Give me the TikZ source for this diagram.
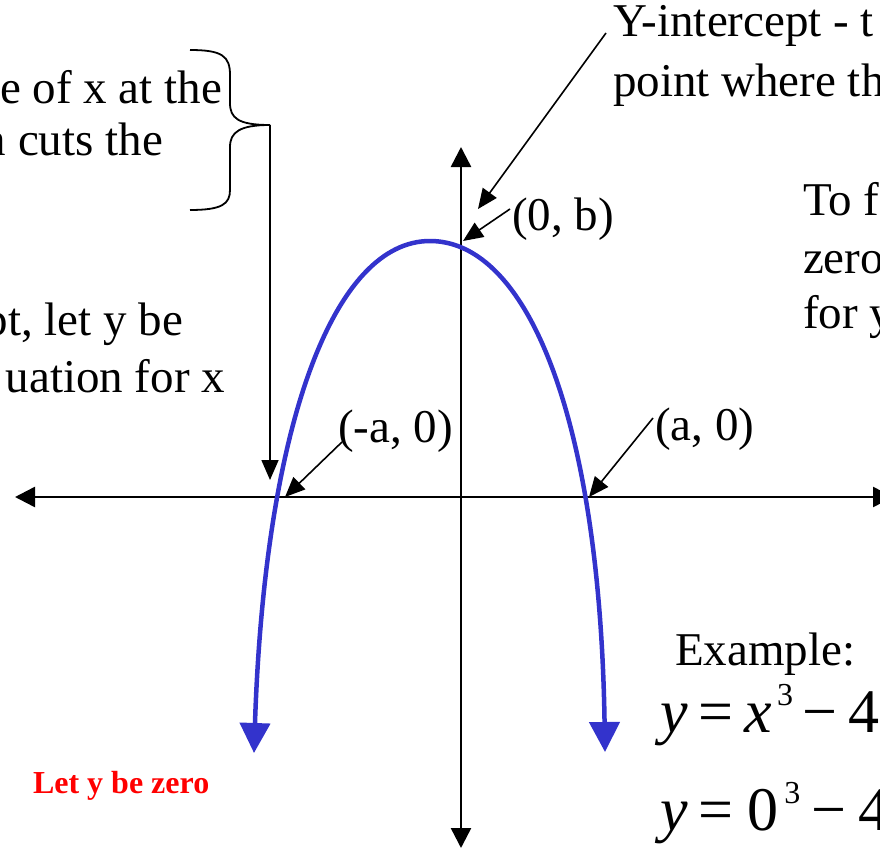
\documentclass[tikz,border=0pt]{standalone}
\usepackage{fontspec}
\setmainfont{Liberation Serif}
\usetikzlibrary{arrows.meta}
\definecolor{curveblue}{RGB}{51,51,204}
\definecolor{labelred}{RGB}{255,0,0}
\tikzset{
  axisline/.style={line width=2.5pt, {Triangle[length=20pt,width=20pt]}-{Triangle[length=20pt,width=20pt]}},
  noteline/.style={line width=1.6pt, -{Triangle[length=20pt,width=17pt]}},
  braceline/.style={line width=1.8pt},
  curveline/.style={line width=4.5pt, color=curveblue, {Triangle[length=30pt,width=30pt]}-{Triangle[length=30pt,width=30pt]}},
  txt/.style={inner sep=0pt, outer sep=0pt, font=\fontsize{47}{56}\selectfont},
  mathtxt/.style={inner sep=0pt, outer sep=0pt, font=\fontsize{62}{70}\selectfont},
  redtxt/.style={inner sep=0pt, outer sep=0pt, text=labelred, font=\fontsize{32}{38}\selectfont\bfseries},
}
\begin{document}
\begin{tikzpicture}[x=1pt, y=-1pt]
\useasboundingbox (0,0) rectangle (880,848);
\clip (0,0) rectangle (880,848);

% axes
\coordinate (xl) at (15,497);
\coordinate (xr) at (893,497);
\coordinate (yt) at (461,147);
\coordinate (yb) at (461,848);
\draw[axisline] (xl) -- (xr);
\draw[axisline] (yb) -- (yt);

% curve
\coordinate (cl) at (254,753);
\coordinate (peak) at (430,241);
\coordinate (cr) at (605,752);
\draw[curveline] (cl) .. controls (265,420) and (335,241) .. (peak)
                      .. controls (528,241) and (600,420) .. (cr);

% left text block with brace
\node[txt, anchor=base east] (l1) at (222,103) {e of x at the};
\node[txt, anchor=base east] (l2) at (163,155) {n cuts the};
\coordinate (btop) at (190,50);
\coordinate (bbot) at (190,210);
\coordinate (btip) at (270,125);
\draw[braceline] (btop) .. controls (222,50) and (230,56) .. (230,75) -- (230,103)
   .. controls (230,118) and (238,125) .. (btip);
\draw[braceline] (btip) .. controls (240,125) and (230,132) .. (230,147) -- (230,190)
   .. controls (230,204) and (222,210) .. (bbot);
\coordinate (bdown) at (270,480);
\draw[noteline] (btip) -- (bdown);

\node[txt, anchor=base east] (l3) at (183,335) {pt, let y be};
\node[txt, anchor=base east] (l4) at (225,392) {uation for x};

% top right text
\node[txt, anchor=base west] (r1) at (613,37) {Y-intercept - t};
\node[txt, anchor=base west] (r2) at (613,97) {point where th};
\coordinate (yis) at (606,33);
\coordinate (yie) at (478,209);
\draw[noteline] (yis) -- (yie);

\node[txt, anchor=base west] (r3) at (803,215) {To f};
\node[txt, anchor=base west] (r4) at (803,273) {zero};
\node[txt, anchor=base west] (r5) at (803,328) {for y};

% point labels
\node[txt, anchor=base west] (p0b) at (512,230) {(0, b)};
\coordinate (p0bs) at (510,209);
\coordinate (p0be) at (463,241);
\draw[noteline] (p0bs) -- (p0be);

\node[txt, anchor=base west] (pa) at (655,440) {(a, 0)};
\coordinate (pas) at (653,418);
\coordinate (pae) at (589,497);
\draw[noteline] (pas) -- (pae);

\node[txt, anchor=base west] (pma) at (338,442) {(-a, 0)};
\coordinate (pmas) at (342,442);
\coordinate (pmae) at (285,497);
\draw[noteline] (pmas) -- (pmae);

% example
\node[txt, anchor=base west] (ex) at (675,665) {Example:};
\node[mathtxt, anchor=base west] (eq1) at (660,732)
  {\itshape y\upshape\hspace{11pt}=\hspace{11pt}\itshape x\upshape\hspace{5pt}\raisebox{27pt}{\fontsize{32}{32}\selectfont 3}\hspace{9pt}−\hspace{12pt}4};
\node[mathtxt, anchor=base west] (eq2) at (660,830)
  {\itshape y\upshape\hspace{11pt}=\hspace{14pt}0\hspace{6pt}\raisebox{27pt}{\fontsize{32}{32}\selectfont 3}\hspace{11pt}−\hspace{12pt}4};

% red note
\node[redtxt, anchor=base west] (red) at (33,793) {Let y be zero};
\end{tikzpicture}
\end{document}
